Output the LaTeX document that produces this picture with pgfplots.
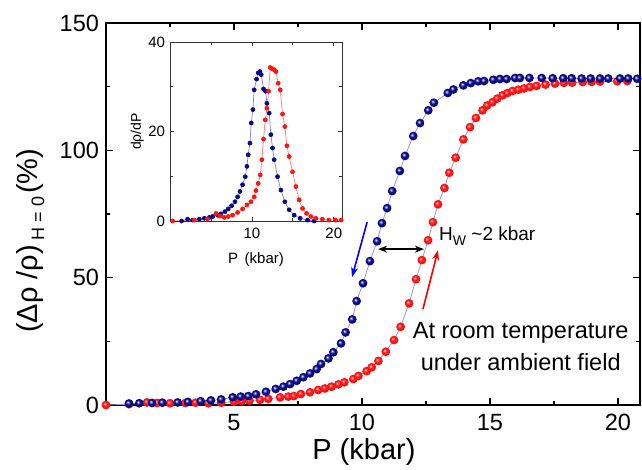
\documentclass[border=0pt]{standalone}
\usepackage{fontspec}
\setmainfont{Liberation Sans}
\usepackage{pgfplots}
\pgfplotsset{compat=1.18}
\usetikzlibrary{arrows.meta}

\definecolor{navyball}{RGB}{10,10,135}
\definecolor{redball}{RGB}{255,20,20}
\definecolor{linkline}{RGB}{150,150,215}
\definecolor{insetblue}{RGB}{130,130,210}
\definecolor{insetred}{RGB}{255,120,120}

% glossy balls, brighter than the stock ball shading
\pgfdeclareradialshading{redsphere}{\pgfqpoint{-8bp}{8bp}}{%
  color(0bp)=(white); color(6bp)=(redball!70!white); color(12bp)=(redball);
  color(22bp)=(redball); color(28bp)=(redball!80!black); color(50bp)=(redball!60!black)}
\pgfdeclareradialshading{bluesphere}{\pgfqpoint{-8bp}{8bp}}{%
  color(0bp)=(white); color(6bp)=(navyball!55!white); color(12bp)=(navyball);
  color(22bp)=(navyball); color(28bp)=(navyball!85!black); color(50bp)=(navyball!60!black)}
\pgfdeclareplotmark{redsph}{%
  \pgfpathcircle{\pgfpointorigin}{\pgfplotmarksize}%
  \pgfshadepath{redsphere}{0}\pgfusepath{}}
\pgfdeclareplotmark{bluesph}{%
  \pgfpathcircle{\pgfpointorigin}{\pgfplotmarksize}%
  \pgfshadepath{bluesphere}{0}\pgfusepath{}}

% main curves: (P in kbar, resistance change in %)
\pgfplotstableread{
P y
0.9 0.6
1.3 0.7
1.8 0.8
2.2 0.9
2.8 1.0
3.2 1.2
3.7 1.5
4.1 1.8
4.5 2.2
4.95 3.0
5.26 3.3
5.56 3.5
5.86 4.2
6.25 5.2
6.63 6.3
6.93 7.2
7.19 8.2
7.45 9.5
7.71 10.9
7.97 12.4
8.23 14.1
8.40 16.1
8.69 18.3
8.88 20.7
9.18 24.2
9.36 28.5
9.62 33.6
9.79 40.8
10.04 47.8
10.31 56.5
10.59 64.3
10.78 71.4
10.98 77.3
11.18 84.0
11.48 91.9
11.68 97.8
12.0 105.6
12.27 110.7
12.59 115.7
12.81 118.7
13.35 122.5
13.57 123.9
13.96 125.5
14.25 126.4
14.54 127.1
14.77 127.2
15.13 127.7
15.39 128.0
15.65 128.0
15.98 128.4
16.17 128.4
16.54 128.4
17.02 128.4
17.45 128.3
17.86 128.3
18.19 128.3
18.58 128.2
18.93 128.2
19.3 128.2
19.62 128.2
20.08 128.2
20.4 128.2
20.75 128.1
}\bluemain

\pgfplotstableread{
P y
0.0 0.0
0.9 0.3
1.6 1.0
2.0 0.8
2.5 0.7
3.1 0.8
3.5 0.9
4.0 0.7
4.5 0.9
5.0 1.3
5.3 1.5
5.6 1.7
6.02 2.0
6.34 2.4
6.80 3.0
7.12 3.3
7.34 3.5
7.61 4.3
7.97 5.0
8.29 5.9
8.55 6.5
8.81 7.2
9.08 8.1
9.31 8.9
9.66 10.2
9.86 11.4
10.18 13.3
10.38 14.8
10.64 17.3
10.93 20.9
11.25 25.5
11.51 30.7
11.84 39.9
12.11 49.4
12.34 56.9
12.58 64.7
12.77 71.8
12.97 78.8
13.22 85.2
13.41 91.2
13.66 97.1
13.96 104.3
14.22 109.1
14.45 112.7
14.71 115.7
14.89 117.6
15.1 118.9
15.28 120.3
15.49 121.6
15.68 122.5
15.88 123.3
16.11 123.8
16.33 124.3
16.56 124.9
16.82 125.3
17.17 125.8
17.54 126.2
17.89 126.5
18.21 126.6
18.62 126.8
18.97 126.9
19.3 127.0
19.97 127.1
20.36 127.2
}\redmain

% inset: derivative
\pgfplotstableread{
P d
1.42 0.0
2.15 0.4
2.76 0.2
3.58 0.4
4.19 0.6
4.8 0.8
5.2 1.0
5.81 1.3
6.22 1.6
6.71 2.1
7.11 2.7
7.52 3.4
7.93 4.3
8.25 5.4
8.54 6.6
8.86 8.1
9.19 9.9
9.39 12.2
9.55 14.8
9.76 17.4
9.92 21.9
10.12 24.9
10.28 29.3
10.57 31.7
10.77 33.1
10.98 33.4
11.14 32.7
11.42 29.5
11.67 29.0
11.83 26.3
12.11 24.1
12.32 19.3
12.52 16.3
12.72 13.7
13.13 9.9
13.54 6.9
14.02 4.3
14.55 2.5
15.16 1.3
15.89 0.6
16.79 0.2
17.6 0.0
}\blueinset

\pgfplotstableread{
P d
0.33 0.0
2.97 0.2
4.59 0.5
5.61 1.7
6.1 1.1
6.63 0.8
7.11 1.0
7.64 1.3
8.25 1.9
8.86 2.7
9.39 3.6
9.88 4.3
10.28 5.4
10.49 6.8
10.77 8.4
11.02 10.3
11.22 13.7
11.42 18.3
11.63 22.6
11.83 25.2
12.03 29.0
12.24 34.3
12.52 34.0
12.72 33.8
12.93 33.4
13.21 30.8
13.46 29.3
13.74 23.9
14.02 21.1
14.27 16.8
14.55 14.4
14.96 11.0
15.37 7.7
15.77 4.7
16.18 2.8
16.67 1.7
17.2 1.0
17.8 0.6
18.6 0.4
19.4 0.2
20.2 0.2
20.9 0.2
}\redinset

\begin{document}
\begin{tikzpicture}
\begin{axis}[
  at={(0,0)}, anchor=south west,
  scale only axis, width=267pt, height=191pt,
  xmin=0, xmax=20.86, ymin=0, ymax=150,
  xtick={5,10,15,20}, ytick={0,50,100,150},
  minor xtick={2.5,7.5,12.5,17.5}, minor ytick={25,75,125},
  tick align=inside, major tick length=3.5pt, minor tick length=2pt,
  axis line style={line width=0.65pt},
  every tick/.style={black, line width=0.65pt},
  tick label style={font=\fontsize{11.75}{12}\selectfont},
  xticklabel style={yshift=-1pt},
  /pgf/number format/assume math mode=true,
  xlabel={P (kbar)},
  xlabel style={font=\fontsize{14.5}{15}\selectfont, at={(axis description cs:0.483,0)}, yshift=-23.5pt, anchor=center},
  ylabel={(Δρ /ρ)\,\raisebox{-0.45ex}{\fontsize{9}{9}\selectfont H = 0\,}(\%)},
  ylabel style={font=\fontsize{14.5}{15}\selectfont, at={(axis description cs:-0.142,0.43)}, anchor=center},
  clip=false,
]
\addplot[linkline, line width=0.4pt, mark=redsph, mark size=2.2pt] table[x=P, y=y] {\redmain};
\addplot[linkline, line width=0.4pt, mark=bluesph, mark size=2.2pt] table[x=P, y=y] {\bluemain};

\draw[-{Stealth[length=5pt, width=3.5pt]}, blue, line width=0.8pt]
  (axis cs:10.2,71.8) -- (axis cs:9.61,50.2);
\draw[-{Stealth[length=5pt, width=3.5pt]}, red, line width=0.8pt]
  (axis cs:12.38,37.6) -- (axis cs:12.97,60.8);
\draw[{Stealth[length=4.5pt, width=3.5pt]}-{Stealth[length=4.5pt, width=3.5pt]}, black, line width=0.8pt]
  (axis cs:10.63,61.2) -- (axis cs:12.42,61.2);
\node[anchor=west, font=\fontsize{9.5}{10}\selectfont, inner sep=0pt]
  at (axis cs:13.0,66.3) {H\raisebox{-0.5ex}{\fontsize{7}{7}\selectfont W} \textasciitilde2 kbar};
\node[align=center, font=\fontsize{11.75}{16}\selectfont]
  at (axis cs:16.2,23.1) {At room temperature\\under ambient field};
\end{axis}

\begin{axis}[
  at={(32pt,92pt)}, anchor=south west,
  scale only axis, width=86pt, height=89.5pt,
  xmin=0, xmax=21, ymin=0, ymax=40,
  xtick={10,20}, ytick={0,20,40},
  minor xtick={5,15}, minor ytick={10,30},
  tick align=inside, major tick length=2pt, minor tick length=1.5pt,
  axis line style={line width=0.4pt, black!80},
  every tick/.style={black!80, line width=0.4pt},
  axis background/.style={fill=white},
  tick label style={font=\fontsize{7.5}{8}\selectfont},
  yticklabel style={xshift=1pt},
  /pgf/number format/assume math mode=true,
  xlabel={P\, (kbar)},
  xlabel style={font=\fontsize{7.5}{8}\selectfont, at={(axis description cs:0.5,0)}, yshift=-19.5pt, anchor=center},
  ylabel={dρ/dP},
  ylabel style={font=\fontsize{7}{8}\selectfont, at={(axis description cs:-0.19,0.5)}, anchor=center},
]
\addplot[insetblue, line width=0.35pt, mark=*, mark size=1pt,
  mark options={fill=navyball, draw=navyball}] table[x=P, y=d] {\blueinset};
\addplot[insetred, line width=0.35pt, mark=*, mark size=1pt,
  mark options={fill=redball, draw=redball}] table[x=P, y=d] {\redinset};
\end{axis}

\pgfresetboundingbox
\path[use as bounding box] (-53pt,-32.5pt) rectangle (268pt,202.5pt);
\end{tikzpicture}
\end{document}
